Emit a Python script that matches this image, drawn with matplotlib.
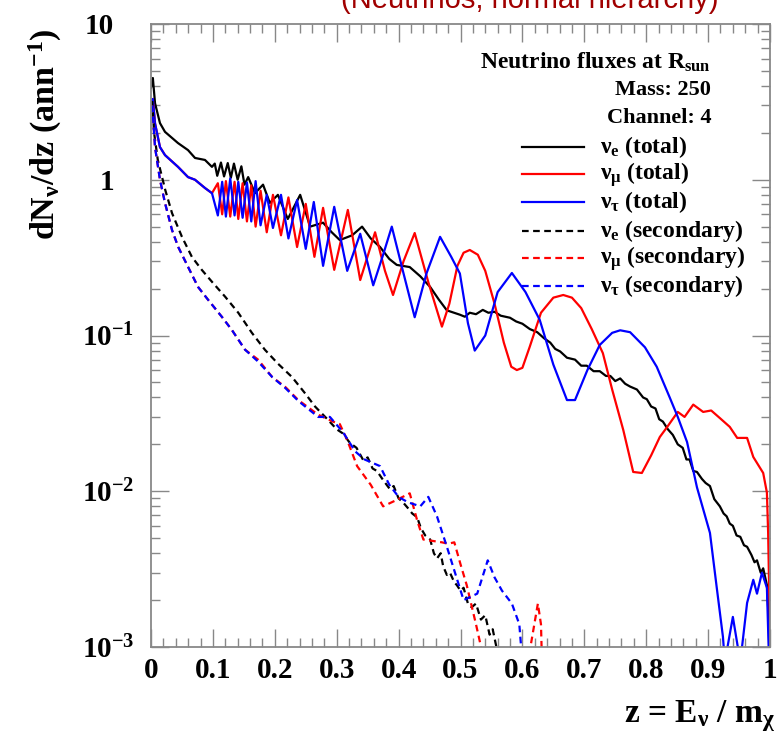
import matplotlib
matplotlib.use('Agg')
import matplotlib.pyplot as plt
import matplotlib.transforms as mtransforms
from matplotlib.ticker import FixedLocator, MultipleLocator, LogLocator, NullFormatter

plt.rcParams['font.family'] = ['Liberation Serif', 'DejaVu Serif']
plt.rcParams['font.weight'] = 'bold'
plt.rcParams['mathtext.fontset'] = 'custom'
plt.rcParams['mathtext.rm'] = 'Liberation Serif:bold'
plt.rcParams['mathtext.it'] = 'Liberation Serif:bold'
plt.rcParams['mathtext.bf'] = 'Liberation Serif:bold'

# nu_e total (black)
z_e_tot = [0.0, 0.003, 0.0065, 0.0145, 0.0226, 0.0436, 0.0598, 0.0711, 0.0872, 0.0985,
           0.103, 0.107, 0.113, 0.118, 0.124, 0.129, 0.134, 0.140, 0.146, 0.151, 0.157,
           0.168, 0.181, 0.192, 0.205, 0.221, 0.241, 0.257, 0.278, 0.292, 0.305,
           0.325, 0.341, 0.355, 0.370, 0.385, 0.397, 0.418, 0.435, 0.451, 0.465,
           0.478, 0.499, 0.507, 0.515, 0.525, 0.536, 0.545, 0.555, 0.565, 0.580,
           0.590, 0.600, 0.612, 0.624, 0.635, 0.645, 0.653, 0.661, 0.672, 0.685,
           0.695, 0.704, 0.715, 0.725, 0.735, 0.742, 0.750, 0.758, 0.766, 0.774,
           0.785, 0.795, 0.801, 0.808, 0.815, 0.821, 0.827, 0.835, 0.843, 0.851,
           0.859, 0.865, 0.870, 0.876, 0.882, 0.890, 0.896, 0.903, 0.910, 0.919,
           0.925, 0.930, 0.935, 0.940, 0.946, 0.952, 0.958, 0.963, 0.970, 0.975,
           0.979, 0.985, 0.989, 0.995, 0.998, 1.0]
e_tot = [3.9, 4.5, 3.1, 2.31, 2.03, 1.72, 1.55, 1.38, 1.34, 1.21,
         1.27, 1.06, 1.29, 1.05, 1.28, 1.03, 1.27, 1.0, 1.22, 0.93, 1.04,
         0.82, 0.93, 0.71, 0.80, 0.56, 0.80, 0.50, 0.53, 0.46, 0.41,
         0.44, 0.50, 0.42, 0.37, 0.31, 0.284, 0.275, 0.24, 0.205, 0.17,
         0.145, 0.136, 0.132, 0.140, 0.137, 0.146, 0.140, 0.142, 0.134, 0.130,
         0.123, 0.119, 0.110, 0.105, 0.096, 0.090, 0.082, 0.079, 0.072, 0.070,
         0.064, 0.064, 0.059, 0.059, 0.055, 0.055, 0.051, 0.053, 0.049, 0.047,
         0.045, 0.040, 0.039, 0.035, 0.034, 0.029, 0.028, 0.025, 0.023, 0.020,
         0.019, 0.016, 0.016, 0.0135, 0.0133, 0.0120, 0.0113, 0.0108, 0.0089, 0.0080,
         0.0072, 0.0069, 0.0062, 0.0060, 0.0052, 0.0051, 0.0045, 0.0044, 0.0039, 0.0035,
         0.0036, 0.0030, 0.0032, 0.0025, 0.0015, 0.0004]

# nu_mu total (red)
z_mu_tot = [0.0, 0.003, 0.0065, 0.0145, 0.0226, 0.0436, 0.0598, 0.0711, 0.0872, 0.0985,
            0.108, 0.115, 0.121, 0.128, 0.135, 0.141, 0.148, 0.155, 0.162, 0.169,
            0.177, 0.187, 0.197, 0.210, 0.222, 0.236, 0.250, 0.264, 0.278, 0.296,
            0.318, 0.338, 0.362, 0.378, 0.391, 0.408, 0.426, 0.448, 0.470, 0.482,
            0.495, 0.505, 0.515, 0.528, 0.540, 0.555, 0.570, 0.582, 0.591, 0.600,
            0.612, 0.630, 0.650, 0.666, 0.680, 0.695, 0.712, 0.730, 0.745, 0.763,
            0.779, 0.793, 0.808, 0.822, 0.834, 0.851, 0.862, 0.876, 0.892, 0.905,
            0.919, 0.935, 0.947, 0.963, 0.973, 0.989, 0.995, 0.997, 0.9995, 1.0]
mu_tot = [3.0, 3.3, 2.3, 1.62, 1.44, 1.21, 1.04, 1.0, 0.885, 0.82,
          0.95, 0.60, 0.98, 0.58, 0.97, 0.56, 0.95, 0.54, 0.92, 0.50,
          0.85, 0.46, 0.80, 0.44, 0.77, 0.37, 0.70, 0.32, 0.66, 0.264,
          0.64, 0.227, 0.46, 0.26, 0.182, 0.30, 0.455, 0.22, 0.114, 0.16,
          0.28, 0.34, 0.354, 0.33, 0.26, 0.16, 0.090, 0.063, 0.060, 0.062,
          0.085, 0.14, 0.175, 0.182, 0.175, 0.15, 0.11, 0.077, 0.045, 0.0247,
          0.0133, 0.0131, 0.017, 0.0223, 0.0259, 0.0323, 0.030, 0.036, 0.0323, 0.033,
          0.0295, 0.0259, 0.022, 0.022, 0.0166, 0.0131, 0.0098, 0.0054, 0.0015, 0.0004]

# nu_tau total (blue)
z_tau_tot = [0.0, 0.003, 0.0065, 0.0145, 0.0226, 0.0436, 0.0598, 0.0711, 0.0872, 0.0985,
             0.108, 0.115, 0.121, 0.128, 0.135, 0.141, 0.148, 0.155, 0.162, 0.169,
             0.177, 0.187, 0.197, 0.210, 0.222, 0.236, 0.250, 0.263, 0.278, 0.296,
             0.317, 0.338, 0.359, 0.375, 0.389, 0.408, 0.426, 0.445, 0.467, 0.485,
             0.499, 0.512, 0.523, 0.540, 0.560, 0.583, 0.605, 0.628, 0.650, 0.672,
             0.685, 0.705, 0.725, 0.745, 0.758, 0.774, 0.798, 0.817, 0.838, 0.851,
             0.866, 0.882, 0.903, 0.914, 0.924, 0.927, 0.940, 0.952, 0.963, 0.973,
             0.979, 0.987, 0.995, 1.0]
tau_tot = [3.0, 3.3, 2.3, 1.62, 1.44, 1.21, 1.04, 1.0, 0.885, 0.82,
           0.59, 0.97, 0.58, 1.02, 0.59, 0.97, 0.57, 0.96, 0.54, 0.98,
           0.51, 0.80, 0.49, 0.80, 0.42, 0.74, 0.36, 0.72, 0.28, 0.67,
           0.26, 0.45, 0.21, 0.33, 0.50, 0.25, 0.131, 0.25, 0.43, 0.32,
           0.25, 0.12, 0.080, 0.10, 0.19, 0.252, 0.19, 0.126, 0.065, 0.0385,
           0.0385, 0.060, 0.087, 0.104, 0.108, 0.105, 0.084, 0.063, 0.040, 0.030,
           0.0207, 0.0106, 0.0054, 0.0024, 0.00116, 0.0008, 0.00156, 0.0008, 0.00192, 0.0027,
           0.0022, 0.0030, 0.0024, 0.0005]

# secondaries (dashed)
z_e_sec = [0.002, 0.005, 0.011, 0.023, 0.034, 0.050, 0.066, 0.082, 0.099, 0.120,
           0.141, 0.163, 0.184, 0.205, 0.228, 0.249, 0.265, 0.285, 0.300, 0.310,
           0.321, 0.332, 0.343, 0.350, 0.358, 0.365, 0.375, 0.386, 0.392, 0.400,
           0.407, 0.415, 0.422, 0.430, 0.436, 0.443, 0.451, 0.457, 0.462, 0.468,
           0.472, 0.478, 0.483, 0.490, 0.494, 0.500, 0.505, 0.512, 0.518, 0.525,
           0.533, 0.540, 0.547, 0.552, 0.558, 0.565]
e_sec = [3.2, 2.0, 1.34, 0.86, 0.61, 0.43, 0.32, 0.264, 0.22, 0.177,
         0.14, 0.104, 0.081, 0.066, 0.054, 0.0425, 0.035, 0.029, 0.025, 0.0235,
         0.0205, 0.0190, 0.0158, 0.0165, 0.0140, 0.0135, 0.0118, 0.0103, 0.0108, 0.0090,
         0.0085, 0.0078, 0.0072, 0.0068, 0.0058, 0.0052, 0.0049, 0.0040, 0.0037, 0.0040,
         0.0033, 0.0029, 0.0030, 0.0026, 0.0025, 0.0023, 0.0024, 0.0019, 0.0018, 0.0019,
         0.0015, 0.0016, 0.0012, 0.0013, 0.0010, 0.0005]

z_mu_sec = [0.002, 0.0065, 0.0145, 0.0226, 0.034, 0.044, 0.060, 0.076, 0.092, 0.115,
            0.131, 0.152, 0.173, 0.196, 0.217, 0.238, 0.270, 0.294, 0.305, 0.317,
            0.333, 0.355, 0.375, 0.397, 0.418, 0.430, 0.440, 0.470, 0.480, 0.490,
            0.500, 0.510, 0.525, 0.532, 0.545, 0.600, 0.625, 0.630, 0.633]
mu_sec = [3.0, 1.62, 1.0, 0.71, 0.475, 0.37, 0.275, 0.205, 0.17, 0.131,
          0.108, 0.081, 0.070, 0.054, 0.0467, 0.0385, 0.031, 0.028, 0.027, 0.0213,
          0.0145, 0.0110, 0.0080, 0.0088, 0.0097, 0.0065, 0.0049, 0.0047, 0.0046, 0.0047,
          0.0034, 0.0025, 0.0014, 0.00105, 0.0005, 0.0005, 0.0019, 0.0014, 0.0005]

z_tau_sec = [0.002, 0.0065, 0.0145, 0.0226, 0.034, 0.044, 0.060, 0.076, 0.092, 0.115,
             0.131, 0.152, 0.173, 0.196, 0.217, 0.238, 0.270, 0.289, 0.310, 0.330,
             0.345, 0.370, 0.385, 0.400, 0.415, 0.435, 0.448, 0.462, 0.478, 0.505,
             0.527, 0.544, 0.555, 0.567, 0.583, 0.595, 0.604]
tau_sec = [3.0, 1.62, 1.0, 0.71, 0.475, 0.37, 0.275, 0.205, 0.17, 0.131,
           0.108, 0.081, 0.068, 0.054, 0.046, 0.038, 0.030, 0.030, 0.024, 0.018,
           0.016, 0.0145, 0.011, 0.0092, 0.0085, 0.0080, 0.0092, 0.0069, 0.0044, 0.0020,
           0.0022, 0.0036, 0.0028, 0.0023, 0.0019, 0.0014, 0.0005]

x_ticks = [0, 0.1, 0.2, 0.3, 0.4, 0.5, 0.6, 0.7, 0.8, 0.9, 1]
x_ticklabels = ['0', '0.1', '0.2', '0.3', '0.4', '0.5', '0.6', '0.7', '0.8', '0.9', '1']
y_ticks = [1e-3, 1e-2, 1e-1, 1, 10]
y_ticklabels = [r'$10^{-3}$', r'$10^{-2}$', r'$10^{-1}$', '1', '10']

legend_labels = [r'$\nu_{e}$ (total)', r'$\nu_{\mu}$ (total)', r'$\nu_{\tau}$ (total)',
                 r'$\nu_{e}$ (secondary)', r'$\nu_{\mu}$ (secondary)', r'$\nu_{\tau}$ (secondary)']
line_colors = ['black', '#ff0000', '#0000ff', 'black', '#ff0000', '#0000ff']
line_styles = ['-', '-', '-', (0, (3, 2)), (0, (3, 2)), (0, (3, 2))]

fig = plt.figure(figsize=(7.8, 7.5), dpi=100)
ax = fig.add_axes([151 / 780, 1 - 647 / 750, 619 / 780, 623 / 750])

series = [(z_e_tot, e_tot), (z_mu_tot, mu_tot), (z_tau_tot, tau_tot),
          (z_e_sec, e_sec), (z_mu_sec, mu_sec), (z_tau_sec, tau_sec)]
for (zz, vv), c, ls in zip(series, line_colors, line_styles):
    ax.plot(zz, vv, color=c, ls=ls, lw=1.6)

ax.set_yscale('log')
ax.set_xlim(0, 1)
ax.set_ylim(1e-3, 10)

ax.set_xticks(x_ticks)
ax.set_xticklabels(x_ticklabels)
ax.xaxis.set_minor_locator(MultipleLocator(0.02))

ax.yaxis.set_major_locator(FixedLocator(y_ticks))
ax.yaxis.set_minor_locator(LogLocator(base=10, subs=range(2, 10)))
ax.yaxis.set_minor_formatter(NullFormatter())
ax.set_yticklabels(y_ticklabels)

ax.tick_params(which='both', direction='in', top=True, right=True, color='#888888',
               labelsize=21)
ax.tick_params(which='major', length=13, width=1.0)
ax.tick_params(which='minor', length=6.5, width=1.0)
ax.tick_params(axis='x', which='major', pad=7)
ax.tick_params(axis='y', which='major', pad=12)
for s in ax.spines.values():
    s.set_color('#888888')
    s.set_linewidth(1.3)

# plain "1" and "10" sit further left than the 10^n labels, as in the original
shift = mtransforms.ScaledTranslation(-0.2, 0, fig.dpi_scale_trans)
for lab in ax.get_yticklabels()[3:]:
    lab.set_transform(lab.get_transform() + shift)

# legend block
ax.text(0.905, 0.939, r'Neutrino fluxes at R$_{\rm sun}$', transform=ax.transAxes,
        ha='right', va='center', fontsize=17)
ax.text(0.905, 0.894, 'Mass: 250', transform=ax.transAxes, ha='right', va='center', fontsize=16)
ax.text(0.905, 0.849, 'Channel: 4', transform=ax.transAxes, ha='right', va='center', fontsize=16)
rows_y = [0.803, 0.759, 0.714, 0.668, 0.624, 0.579]
for yy, lab, c, ls in zip(rows_y, legend_labels, line_colors, line_styles):
    ax.plot([0.599, 0.700], [yy, yy], transform=ax.transAxes, color=c, ls=ls, lw=1.6)
    ax.text(0.725, yy, lab, transform=ax.transAxes, ha='left', va='center', fontsize=17)

fig.text(0.058, 1 - 28 / 750, r'dN$_{\nu}$/dz (ann$^{-1}$)', rotation=90,
         ha='center', va='top', fontsize=24.5)
fig.text(0.994, 1 - 722 / 750, r'z = E$_{\nu}$ / m$_{\chi}$', ha='right', va='baseline',
         fontsize=24)
fig.text(530 / 780, 1 - 8 / 750, '(Neutrinos, normal hierarchy)', ha='center', va='baseline',
         fontsize=21, color='#a00000', family='Liberation Sans', weight='normal')

fig.savefig('out.png', dpi=100)
